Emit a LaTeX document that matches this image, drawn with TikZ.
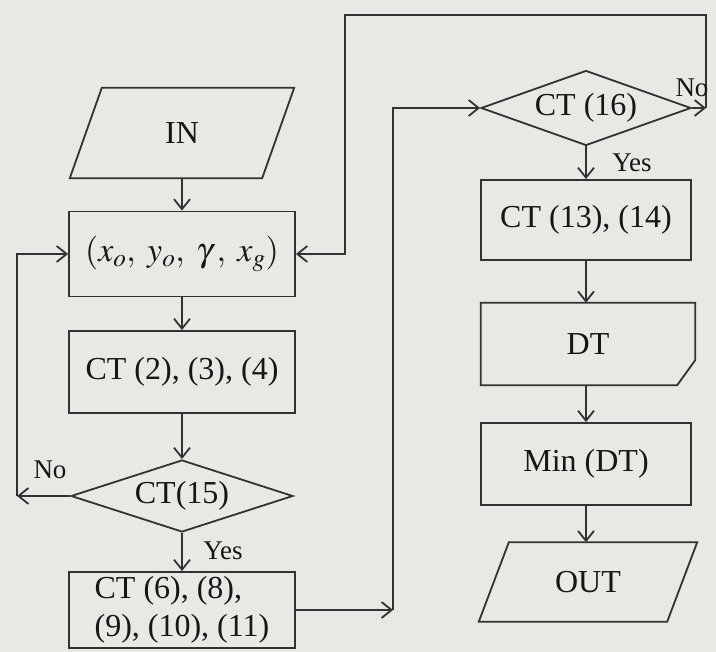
\documentclass[tikz,border=0pt]{standalone}
\usepackage{mathptmx}
\usepackage{fontspec}
\setmainfont{Liberation Serif}
\usetikzlibrary{arrows.meta,shapes.geometric,calc}
\definecolor{paper}{RGB}{232,232,228}
\definecolor{ink}{RGB}{50,50,50}
\definecolor{txt}{RGB}{22,22,22}
\newcommand\bigtxt{\fontsize{32}{38}\selectfont}
\newcommand\mathtxt{\fontsize{34}{38}\selectfont}
\newcommand\labtxt{\fontsize{27}{30}\selectfont}
\begin{document}
\begin{tikzpicture}[x=1pt,y=-1pt,
  line/.style={draw=ink,line width=1.8pt},
  arr/.style={line,-{Straight Barb[length=10pt,width=16pt]}},
  plain/.style={rectangle,inner sep=0pt,font=\bigtxt,text=txt},
  box/.style={plain,draw=ink,line width=1.8pt,minimum width=210pt,minimum height=82pt},
  lbox/.style={box,minimum width=226pt},
  dec/.style={diamond,draw=ink,line width=1.8pt,aspect=3.0,inner sep=0pt,font=\bigtxt,text=txt},
  lab/.style={font=\labtxt,text=txt,inner sep=0pt}]
\fill[paper] (0,0) rectangle (716,652);
\useasboundingbox (0,0) rectangle (716,652);
% left column
\node[plain,minimum width=192pt,minimum height=90pt] (in) at (182,133) {IN};
\draw[line] ($(in.north west)+(16,0)$) -- ($(in.north east)+(16,0)$) -- ($(in.south east)+(-16,0)$) -- ($(in.south west)+(-16,0)$) -- cycle;
\node[lbox,minimum height=85pt,font=\mathtxt] (xy) at (182,254) {$(x_o,\; y_o,\; \gamma\,,\; x_g)$};
\node[lbox] (c234) at (182,372) {CT (2), (3), (4)};
\node[dec,minimum width=222pt,minimum height=72pt] (d15) at (182,496) {CT(15)};
\node[lbox,minimum height=76pt,align=left] (c6) at (182,610) {CT (6), (8),\\(9), (10), (11)};
% right column
\node[dec,minimum width=210pt,minimum height=75pt] (d16) at (586,108) {CT (16)};
\node[box,minimum height=80pt] (c13) at (586,220) {CT (13), (14)};
\node[plain,minimum width=214pt,minimum height=82pt] (dt) at (588,344) {DT};
\draw[line] (dt.north west) -- (dt.north east) -- ($(dt.south east)+(0,-25)$) -- ($(dt.south east)+(-18,0)$) -- (dt.south west) -- cycle;
\node[box] (mn) at (586,464) {Min (DT)};
\node[plain,minimum width=188pt,minimum height=79pt] (out) at (588,582) {OUT};
\draw[line] ($(out.north west)+(15,0)$) -- ($(out.north east)+(15,0)$) -- ($(out.south east)+(-15,0)$) -- ($(out.south west)+(-15,0)$) -- cycle;
% coordinates
\coordinate (nL) at (17,496);
\coordinate (r1) at (393,610);
\coordinate (nR) at (706,108);
\coordinate (t1) at (706,15);
\coordinate (t2) at (345,15);
% connectors
\draw[arr] (in.south) -- (xy.north);
\draw[arr] (xy.south) -- (c234.north);
\draw[arr] (c234.south) -- (d15.north);
\draw[arr] (d15.south) -- (c6.north);
\draw[arr] (d15.west) -- (nL);
\draw[arr] (nL) |- (xy.west);
\draw[arr] (c6.east) -- (r1);
\draw[arr] (r1) |- (d16.west);
\draw[arr] (d16.south) -- (c13.north);
\draw[arr] (c13.south) -- (c13.south |- dt.north);
\draw[arr] (dt.south -| mn.north) -- (mn.north);
\draw[arr] (mn.south) -- (mn.south |- out.north);
\draw[arr] (d16.east) -- (nR);
\draw[arr] (nR) -- (t1) -- (t2) |- (xy.east);
% labels
\node[lab] at (50,470) {No};
\node[lab] at (223,551) {Yes};
\node[lab] at (692,88) {No};
\node[lab] at (632,163) {Yes};
\end{tikzpicture}
\end{document}
